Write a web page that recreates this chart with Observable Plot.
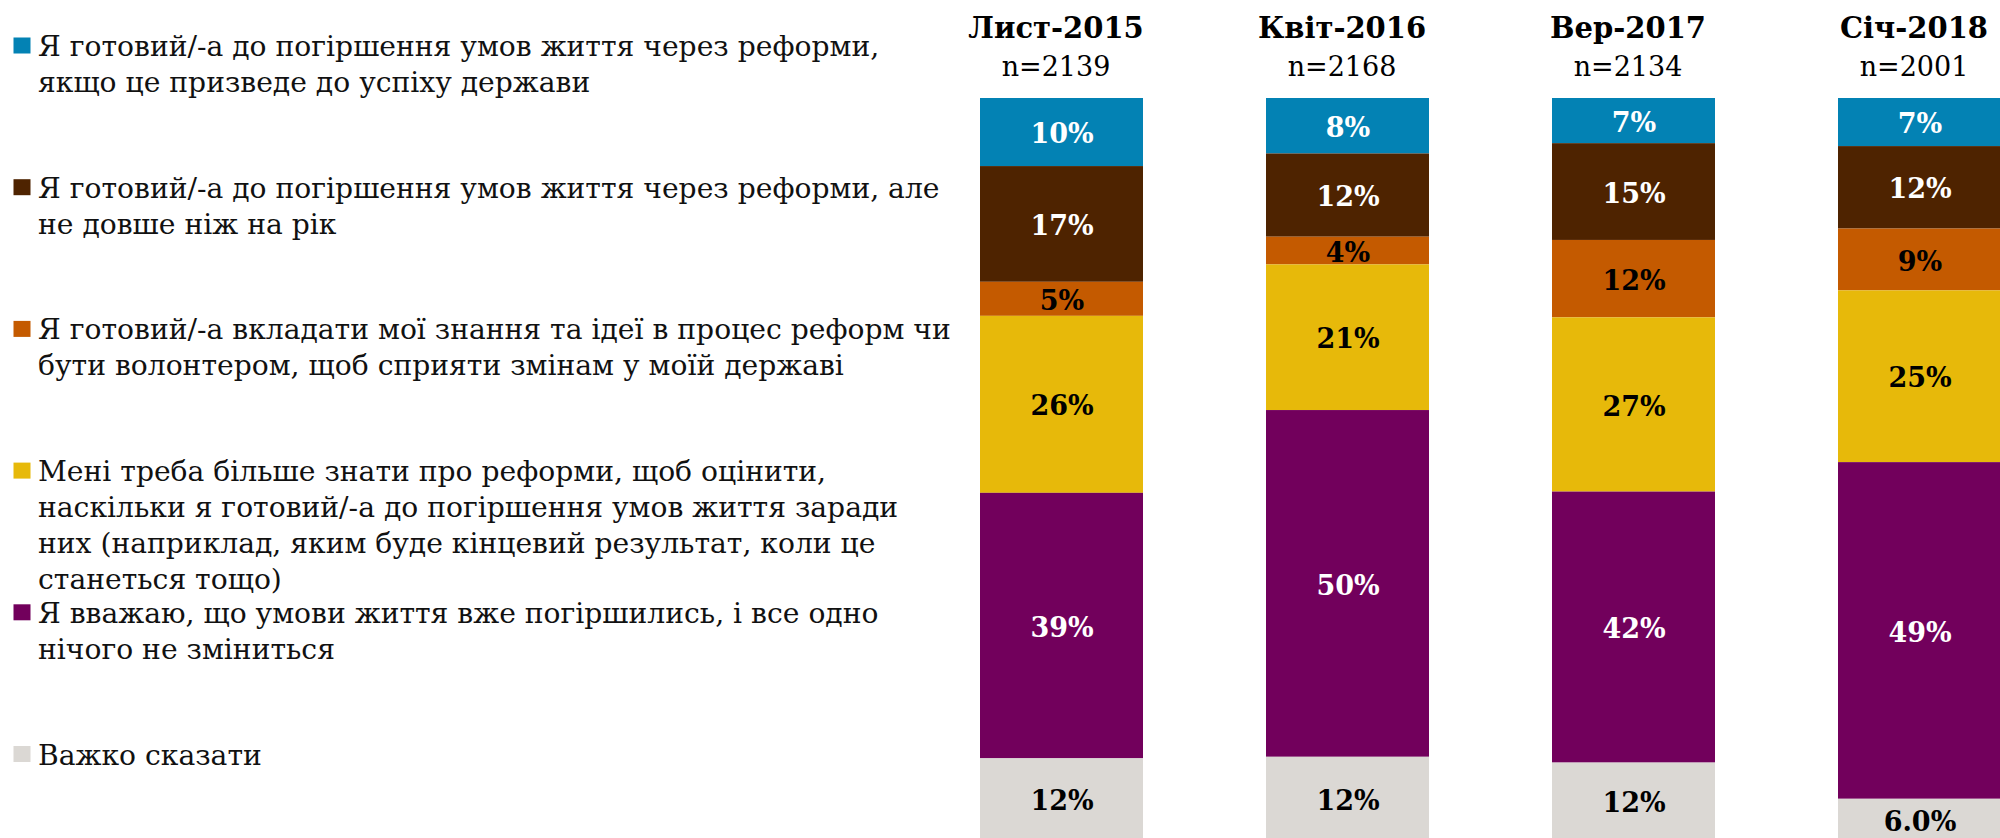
<!DOCTYPE html>
<html>
<head>
<meta charset="utf-8">
<script src="https://cdn.jsdelivr.net/npm/d3@7"></script>
<script src="https://cdn.jsdelivr.net/npm/@observablehq/plot@0.6"></script>
<style>
html, body { margin: 0; padding: 0; background: #fff; overflow: hidden; }
#wrap { position: relative; width: 2000px; height: 838px; overflow: hidden; background: #fff; }
#legend { position: absolute; left: 0; top: 0; width: 1000px; height: 838px; }
#chart { position: absolute; left: 918px; top: 0; width: 1146px; height: 840px; }
#chart svg { max-width: none !important; width: 1146px; height: 840px; }
</style>
</head>
<body>
<div id="wrap"><div id="legend"></div><div id="chart"></div></div>
<script>
// ---- data ----
const periods = ["Лист-2015", "Квіт-2016", "Вер-2017", "Січ-2018"];
const sampleSizes = [2139, 2168, 2134, 2001];

const seriesNames = [
  "Я готовий/-а до погіршення умов життя через реформи,\nякщо це призведе до успіху держави",
  "Я готовий/-а до погіршення умов життя через реформи, але\nне довше ніж на рік",
  "Я готовий/-а вкладати мої знання та ідеї в процес реформ чи\nбути волонтером, щоб сприяти змінам у моїй державі",
  "Мені треба більше знати про реформи, щоб оцінити,\nнаскільки я готовий/-а до погіршення умов життя заради\nних (наприклад, яким буде кінцевий результат, коли це\nстанеться тощо)",
  "Я вважаю, що умови життя вже погіршились, і все одно\nнічого не зміниться",
  "Важко сказати"
];
const seriesColors = ["#0382b4", "#4e2300", "#c45a00", "#e7b90a", "#72005c", "#dbd8d4"];
const labelColors = ["white", "white", "black", "black", "white", "black"];

const readyIfSuccess = [10, 8, 7, 7];
const readyOneYear = [17, 12, 15, 12];
const readyToVolunteer = [5, 4, 12, 9];
const needMoreInfo = [26, 21, 27, 25];
const alreadyWorse = [39, 50, 42, 49];
const hardToSay = [12, 12, 12, 6.0];
const hardToSayLabels = ["12%", "12%", "12%", "6.0%"];

const seriesValues = [readyIfSuccess, readyOneYear, readyToVolunteer, needMoreInfo, alreadyWorse, hardToSay];
const seriesLabels = seriesValues.map((vals, si) => si === 5 ? hardToSayLabels : vals.map(v => `${v}%`));

// ---- table ----
const table = [];
seriesNames.forEach((s, si) => periods.forEach((p, pi) => table.push({
  period: p, series: s, value: seriesValues[si][pi], label: seriesLabels[si][pi], labelColor: labelColors[si]
})));
const stackOrder = seriesNames.slice().reverse(); // bottom to top

// ---- chart ----
const font = "'DejaVu Serif', serif";
const stackOpts = {x: "period", y: "value", z: "series", order: stackOrder, offset: "normalize"};
const chart = Plot.plot({
  width: 1146,
  height: 840,
  marginTop: 98,
  marginBottom: 0,
  marginLeft: 0,
  marginRight: 0,
  style: {fontFamily: font, background: "transparent", overflow: "visible", maxWidth: "none"},
  x: {domain: periods, paddingInner: 0.429, paddingOuter: 0.2145, axis: null},
  y: {domain: [0, 1], axis: null},
  color: {domain: seriesNames, range: seriesColors},
  marks: [
    Plot.barY(table, Plot.stackY({...stackOpts, fill: "series"})),
    Plot.text(table, Plot.stackY({...stackOpts, text: d => d.labelColor === "white" ? d.label : null,
      fill: "white", fontSize: 27, fontWeight: "bold", fontFamily: font, dy: 2})),
    Plot.text(table, Plot.stackY({...stackOpts, text: d => d.labelColor === "black" ? d.label : null,
      fill: "black", fontSize: 27, fontWeight: "bold", fontFamily: font, dy: 2})),
    Plot.text(periods, {x: d => d, text: d => d, frameAnchor: "top", lineAnchor: "top", dy: -81.5, dx: -6,
      fontSize: 29, fontWeight: "bold", fill: "black", fontFamily: font}),
    Plot.text(periods, {x: d => d, text: (d, i) => `n=${sampleSizes[i]}`, frameAnchor: "top", lineAnchor: "top", dy: -42, dx: -6,
      fontSize: 27, fill: "black", fontFamily: font})
  ]
});
document.getElementById("chart").appendChild(chart);

// ---- legend ----
const legend = d3.select("#legend").append("svg")
  .attr("width", 1000).attr("height", 838)
  .style("font-family", font);
const slot = 141.7, firstBaseline = 56, lineH = 36;
seriesNames.forEach((name, i) => {
  const base = firstBaseline + slot * i;
  const g = legend.append("g");
  g.append("rect").attr("x", 13.5).attr("y", base - 18.5).attr("width", 17).attr("height", 16)
    .attr("fill", seriesColors[i]);
  const t = g.append("text").attr("x", 38).attr("y", base).attr("font-size", 28.2).attr("fill", "#111");
  name.split("\n").forEach((line, li) => {
    t.append("tspan").attr("x", 38).attr("y", base + li * lineH).text(line);
  });
});
</script>
</body>
</html>
